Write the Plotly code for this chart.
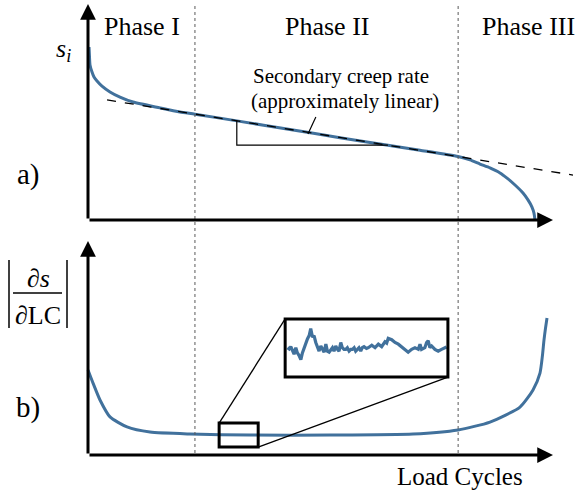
import numpy as np
import plotly.graph_objects as go

# ---------------------------------------------------------------------------
# Data (normalised load cycles on x, schematic magnitudes on y)
# ---------------------------------------------------------------------------
# a) accumulated settlement s_i versus load cycles
load_a = [0.22, 0.32, 0.43, 0.86, 1.29, 1.94, 3.01, 4.73, 6.88, 9.68, 15.48,
          19.78, 23.01, 32.04, 43.44, 54.19, 64.52, 71.4, 79.57, 82.15, 84.3,
          86.45, 88.6, 90.11, 91.83, 93.55, 94.62, 95.48, 95.91, 96.13]
settlement = [80.1, 75.5, 71.8, 68.5, 66.2, 64.4, 62.0, 59.3, 56.9, 54.6, 51.9,
              50.0, 49.0, 45.9, 41.9, 38.1, 34.6, 32.3, 29.4, 27.8, 25.9,
              24.1, 21.8, 19.4, 16.2, 12.5, 9.3, 6.0, 3.2, 0.0]

# secondary creep rate: linear trend through phase II
trend_load = [4.1, 104.3]
trend_settlement = [55.6, 20.8]
slope_triangle_load = [32.0, 64.5]

# b) absolute settlement rate |ds/dLC| versus load cycles
load_b = [0.0, 1.08, 2.58, 4.73, 8.39, 13.33, 21.94, 34.84, 52.04, 69.89,
          79.57, 86.45, 92.9, 95.7, 97.2, 97.74, 98.06, 98.39, 98.71]
rate = [39.7, 33.6, 25.7, 17.8, 13.1, 10.7, 9.8, 9.3, 9.3, 9.8,
        11.7, 15.4, 22.4, 30.4, 38.3, 46.7, 53.7, 59.3, 64.0]

# magnified window of the rate signal in phase II
zoom_load = [28.2, 36.6]
zoom_rate = [3.7, 14.9]
inset_load = [28.32, 28.41, 28.49, 28.58, 28.66, 28.75, 28.83, 28.92, 29.01,
              29.09, 29.18, 29.27, 29.35, 29.44, 29.52, 29.61, 29.69, 29.78,
              29.86, 29.95, 30.04, 30.12, 30.21, 30.30, 30.38, 30.47, 30.55,
              30.64, 30.72, 30.81, 30.90, 30.98, 31.07, 31.15, 31.24, 31.33,
              31.41, 31.50, 31.59, 31.67, 31.76, 31.84, 31.93, 32.01, 32.10,
              32.18, 32.27, 32.40, 32.49, 32.67, 32.84, 33.01, 33.18, 33.35,
              33.44, 33.52, 33.70, 33.87, 34.04, 34.21, 34.38, 34.55, 34.73,
              34.90, 35.07, 35.16, 35.24, 35.41, 35.50, 35.58, 35.67, 35.76,
              35.93, 36.10, 36.27, 36.45, 36.53]
inset_rate = [9.36, 9.10, 9.56, 8.70, 8.10, 9.36, 8.36, 7.84, 7.04,
              8.36, 9.36, 10.36, 11.04, 11.70, 13.04, 11.36, 11.70, 10.36,
              9.36, 8.70, 9.70, 9.04, 8.50, 10.04, 8.70, 8.50, 9.04,
              9.36, 8.70, 9.70, 9.04, 8.70, 10.36, 9.36, 9.04, 9.04,
              9.36, 8.70, 9.04, 9.04, 9.36, 8.70, 9.04, 9.36, 8.70,
              9.36, 9.56, 9.20, 9.36, 9.84, 9.36, 10.04, 9.56, 10.50,
              10.24, 11.16, 10.90, 10.36, 10.04, 9.56, 9.04, 8.50, 9.04,
              9.36, 9.04, 10.04, 9.04, 9.36, 10.36, 10.70, 9.36, 9.70,
              9.04, 8.70, 9.04, 9.36, 9.50]
inset_box_load = [42.4, 77.4]
inset_box_rate = [36.4, 63.6]

phase_bounds = [23.0, 79.6]
phase_labels = ["Phase I", "Phase II", "Phase III"]

# ---------------------------------------------------------------------------
# Page geometry
# ---------------------------------------------------------------------------
W, H = 578, 493
X0, XS = 88, 4.65          # x origin (px) and px per load-cycle unit
YA0, YAS = 220, 2.16       # panel a origin (px) and px per unit
YB0, YBS = 455, 2.14       # panel b origin (px) and px per unit

BLUE = "#41719c"
SERIF = "Liberation Serif, Times New Roman, serif"


def px(x):
    return x / W


def py(y):
    return 1 - y / H


fig = go.Figure()

fig.add_trace(go.Scatter(x=load_a, y=settlement, mode="lines",
                         line=dict(color=BLUE, width=3, shape="spline", smoothing=0.6),
                         xaxis="x", yaxis="y", hoverinfo="skip"))
fig.add_trace(go.Scatter(x=trend_load, y=trend_settlement, mode="lines",
                         line=dict(color="black", width=1.3, dash="dash"),
                         xaxis="x", yaxis="y", hoverinfo="skip"))
tri_y = np.interp(slope_triangle_load, trend_load, trend_settlement)
fig.add_trace(go.Scatter(
    x=[slope_triangle_load[0], slope_triangle_load[0], slope_triangle_load[1]],
    y=[tri_y[0], tri_y[1], tri_y[1]], mode="lines",
    line=dict(color="black", width=1.2), xaxis="x", yaxis="y", hoverinfo="skip"))

fig.add_trace(go.Scatter(x=load_b, y=rate, mode="lines",
                         line=dict(color=BLUE, width=3, shape="spline", smoothing=0.6),
                         xaxis="x", yaxis="y2", hoverinfo="skip"))

fig.add_trace(go.Scatter(x=inset_load, y=inset_rate, mode="lines",
                         line=dict(color=BLUE, width=3.2),
                         xaxis="x3", yaxis="y3", hoverinfo="skip"))

# inset placement derived from its box in panel-b units
inset_dom_x = [(X0 + v * XS) / W for v in inset_box_load]
inset_dom_y = [1 - (YB0 - v * YBS) / H for v in inset_box_rate]

hidden = dict(visible=False, showgrid=False, zeroline=False, fixedrange=True)
fig.update_layout(
    width=W, height=H, autosize=False,
    margin=dict(l=0, r=0, t=0, b=0),
    paper_bgcolor="white", plot_bgcolor="white",
    showlegend=False,
    xaxis=dict(domain=[0, 1], range=[-X0 / XS, (W - X0) / XS], **hidden),
    yaxis=dict(domain=[0, 1], range=[-(H - YA0) / YAS, YA0 / YAS], **hidden),
    yaxis2=dict(domain=[0, 1], range=[-(H - YB0) / YBS, YB0 / YBS],
                overlaying="y", **hidden),
    xaxis3=dict(domain=inset_dom_x, range=zoom_load, anchor="y3", **hidden),
    yaxis3=dict(domain=inset_dom_y, range=zoom_rate, anchor="x3", **hidden),
)

shapes = []
# phase boundaries
for b in phase_bounds:
    shapes.append(dict(type="line", xref="x", yref="paper", x0=b, x1=b,
                       y0=py(453), y1=py(3),
                       line=dict(color="#5a5a5a", width=1, dash="dot")))
# zoom window, inset frame and connectors
shapes.append(dict(type="rect", xref="x", yref="y2",
                   x0=zoom_load[0], x1=zoom_load[1], y0=zoom_rate[0], y1=zoom_rate[1],
                   line=dict(color="black", width=3)))
shapes.append(dict(type="rect", xref="x", yref="y2",
                   x0=inset_box_load[0], x1=inset_box_load[1],
                   y0=inset_box_rate[0], y1=inset_box_rate[1],
                   line=dict(color="black", width=3)))
shapes.append(dict(type="line", xref="x", yref="y2",
                   x0=zoom_load[0], y0=zoom_rate[1], x1=inset_box_load[0], y1=inset_box_rate[1],
                   line=dict(color="black", width=1.3)))
shapes.append(dict(type="line", xref="x", yref="y2",
                   x0=zoom_load[1], y0=zoom_rate[0], x1=inset_box_load[1], y1=inset_box_rate[0],
                   line=dict(color="black", width=1.3)))
# leader line to the creep-rate label
shapes.append(dict(type="line", xref="x", yref="y", x0=49.0, y0=47.7, x1=47.3, y1=39.8,
                   line=dict(color="black", width=1.2)))
# |ds/dLC| label: bars and fraction rule
shapes.append(dict(type="line", xref="paper", yref="paper", x0=px(9), x1=px(9),
                   y0=py(260), y1=py(328), line=dict(color="black", width=1.5)))
shapes.append(dict(type="line", xref="paper", yref="paper", x0=px(67), x1=px(67),
                   y0=py(260), y1=py(328), line=dict(color="black", width=1.5)))
shapes.append(dict(type="line", xref="paper", yref="paper", x0=px(13), x1=px(62),
                   y0=py(293), y1=py(293), line=dict(color="black", width=1.3)))
fig.update_layout(shapes=shapes)

ann = []
# axes with arrow heads
for yref, top in (("y", (YA0 - 4) / YAS), ("y2", (YB0 - 241) / YBS)):
    ann.append(dict(x=0, y=top, ax=0, ay=0, xref="x", yref=yref, axref="x", ayref=yref,
                    text="", showarrow=True, arrowhead=2, arrowsize=1.05,
                    arrowwidth=3, arrowcolor="black", standoff=0, startstandoff=0))
    ann.append(dict(x=(553 - X0) / XS, y=0, ax=0, ay=0, xref="x", yref=yref,
                    axref="x", ayref=yref, text="", showarrow=True, arrowhead=2,
                    arrowsize=1.05, arrowwidth=3, arrowcolor="black",
                    standoff=0, startstandoff=0))


def label(text, x, y, size, **kw):
    ann.append(dict(text=text, x=px(x), y=py(y), xref="paper", yref="paper",
                    showarrow=False, xanchor="center", yanchor="middle",
                    font=dict(family=SERIF, size=size, color="black"), **kw))


for name, cx in zip(phase_labels, [142, 327, 528]):
    label(name, cx, 26, 26)
label("Secondary creep rate", 341, 76, 21)
label("(approximately linear)", 345, 101, 21)
label("<i>s</i><sub><i>i</i></sub>", 63, 50, 26)
label("a)", 28, 174, 29)
label("b)", 28, 407, 29)
label("∂<i>s</i>", 38, 278, 26)
label("∂LC", 38, 315, 26)
label("Load Cycles", 460, 476, 25)
fig.update_layout(annotations=ann)

fig.write_html("out.html")
